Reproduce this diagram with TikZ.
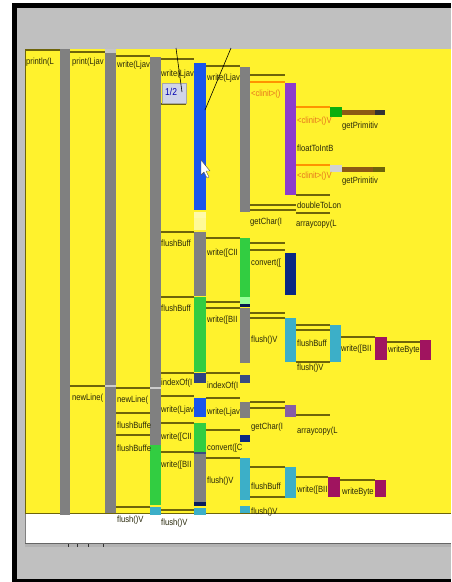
\documentclass[tikz,border=0pt]{standalone}
\usepackage{graphicx}
\usepackage{fontspec}
\setmainfont{Liberation Sans}
\definecolor{bgyel}{RGB}{255,242,45}
\definecolor{bargray}{RGB}{128,128,128}
\definecolor{barblue}{RGB}{25,85,235}
\definecolor{barpurple}{RGB}{140,60,205}
\definecolor{bargreen}{RGB}{50,205,65}
\definecolor{barnavy}{RGB}{10,40,130}
\definecolor{barteal}{RGB}{60,175,200}
\definecolor{barmag}{RGB}{160,20,95}
\definecolor{olive}{RGB}{110,100,10}
\definecolor{brownbar}{RGB}{140,90,20}
\definecolor{orangetxt}{RGB}{230,115,30}
\definecolor{txtc}{RGB}{40,40,10}
\definecolor{framegray}{RGB}{192,192,192}
\definecolor{boxlav}{RGB}{208,212,232}
\newcommand{\nt}[1]{\scalebox{0.85}[1]{#1}}
\tikzset{
  lbl/.style={anchor=west, inner sep=0pt, font=\fontsize{9}{10}\selectfont, text=txtc},
  olbl/.style={lbl, text=orangetxt},
  hln/.style={draw=olive, line width=1.3pt},
  oln/.style={draw=orange!85!yellow, line width=1.3pt},
}
\begin{document}
\begin{tikzpicture}[x=1pt,y=-1pt]
\useasboundingbox (0,0) rectangle (451,582);
% background frame
\fill[white] (0,0) rectangle (451,582);
\fill[black] (12,3) rectangle (451,582);
\fill[framegray] (17,8) rectangle (451,579);
\fill[bgyel] (25,49) rectangle (451,513);
\draw[olive, line width=0.6pt] (25.3,49) -- (25.3,513);
\draw[olive, line width=0.8pt] (25,513) -- (451,513);
\fill[white] (25,514) rectangle (451,543);
\draw[gray, line width=0.5pt] (25.3,514) -- (25.3,543);
\fill[gray!60] (25,543) rectangle (451,547);
\draw[gray!80!black, line width=0.4pt] (25,543.3) -- (451,543.3);
\foreach \tx in {68,77,88,103} \draw[gray!40!black, line width=0.5pt] (\tx,544) -- (\tx,547);

% column 1 & 2 & 3 bars
\fill[bargray] (60,49) rectangle (70,515);
\fill[bargray] (105,49) rectangle (116,513);
\fill[gray!45] (105,49) rectangle (116,53);
\fill[gray!40] (105,385) rectangle (116,387);
\fill[bargray] (150,57) rectangle (161,445);
\fill[gray!40] (150,387) rectangle (161,389);
\fill[bargreen] (150,445) rectangle (161,505);
\fill[barteal] (150,507) rectangle (161,515);

% column 4
\fill[barblue] (194,63) rectangle (206,210);
\fill[white!60!bgyel] (194,212) rectangle (206,218);
\fill[yellow!40!white] (194,218) rectangle (206,230);
\fill[bargray] (194,232) rectangle (206,296);
\fill[bargreen] (194,297) rectangle (206,372);
\fill[barnavy!70!gray] (194,373) rectangle (206,383);
\fill[barblue] (194,398) rectangle (206,417);
\fill[bargreen] (194,423) rectangle (206,452);
\fill[barnavy!60!gray] (194,452) rectangle (206,454);
\fill[bargray] (194,454) rectangle (206,502);
\fill[barnavy!70!black] (194,502) rectangle (206,506);
\fill[barteal] (194,508) rectangle (206,515);

% column 5
\fill[bargray] (240,67) rectangle (250,212);
\fill[bargreen] (240,238) rectangle (250,297);
\fill[green!40!white] (240,297) rectangle (250,304);
\fill[barnavy!60!black] (240,304) rectangle (250,307);
\fill[bargray] (240,308) rectangle (250,363);
\fill[barnavy!60!gray] (240,375) rectangle (250,383);
\fill[bargray] (240,402) rectangle (250,418);
\fill[barnavy] (240,435) rectangle (250,442);
\fill[barteal] (240,458) rectangle (250,500);
\fill[barteal] (240,506) rectangle (250,513);

% column 6
\fill[barpurple] (285,83) rectangle (296,195);
\fill[barnavy] (285,253) rectangle (296,295);
\fill[barteal] (285,318) rectangle (296,362);
\fill[barpurple!50!gray] (285,405) rectangle (296,417);
\fill[barteal] (285,467) rectangle (296,498);

% column 7 and beyond
\fill[green!65!black!80!bargreen] (330,107) rectangle (342,117);
\fill[brownbar] (342,110) rectangle (375,115);
\fill[black!80] (375,110) rectangle (385,115);
\fill[gray!35] (330,165) rectangle (342,172);
\fill[brownbar] (342,167) rectangle (373,172);
\fill[olive] (373,167) rectangle (385,172);
\fill[barteal] (330,325) rectangle (341,362);
\fill[barmag] (375,337) rectangle (387,360);
\fill[barmag] (420,340) rectangle (431,360);
\fill[barmag] (328,477) rectangle (340,497);
\fill[barmag] (375,480) rectangle (386,497);

% header lines
\draw[hln] (25,50) -- (60,50);
\draw[hln] (70,52) -- (105,52);
\draw[hln] (116,56) -- (150,56);
\draw[hln] (161,59) -- (194,59);
\draw[hln] (161,104) -- (186,104);
\draw[hln] (206,66) -- (240,66);
\draw[hln] (250,75) -- (285,75);
\draw[oln] (250,82) -- (285,82);
\draw[oln] (296,107) -- (330,107);
\draw[oln] (296,165) -- (330,165);
\draw[hln] (296,195) -- (330,195);
\draw[hln] (250,205) -- (296,205);
\draw[hln] (250,210) -- (296,210);
\draw[hln] (296,213) -- (330,213);
\draw[hln] (161,232) -- (194,232);
\draw[hln] (206,238) -- (240,238);
\draw[hln] (250,243) -- (285,243);
\draw[hln] (250,250) -- (285,250);
\draw[hln] (161,297) -- (194,297);
\draw[hln] (206,302) -- (240,302);
\draw[hln] (206,308) -- (240,308);
\draw[hln] (250,313) -- (285,313);
\draw[hln] (250,318) -- (285,318);
\draw[hln] (296,325) -- (330,325);
\draw[hln] (296,330) -- (330,330);
\draw[hln] (296,362) -- (330,362);
\draw[hln] (341,337) -- (375,337);
\draw[hln] (387,342) -- (420,342);
\draw[hln] (161,373) -- (194,373);
\draw[hln] (206,373) -- (240,373);
\draw[hln] (70,386) -- (105,386);
\draw[hln] (116,388) -- (150,388);
\draw[hln] (116,413) -- (150,413);
\draw[hln] (116,435) -- (150,435);
\draw[hln] (161,396) -- (194,396);
\draw[hln] (161,423) -- (194,423);
\draw[hln] (161,452) -- (194,452);
\draw[hln] (206,398) -- (240,398);
\draw[hln] (206,430) -- (240,430);
\draw[hln] (206,458) -- (240,458);
\draw[hln] (250,402) -- (285,402);
\draw[hln] (250,408) -- (285,408);
\draw[hln] (296,415) -- (330,415);
\draw[hln] (250,467) -- (285,467);
\draw[hln] (250,497) -- (285,497);
\draw[hln] (296,477) -- (328,477);
\draw[hln] (340,480) -- (375,480);
\draw[hln] (116,507) -- (150,507);
\draw[hln] (161,510) -- (194,510);

% 1/2 box
\node[draw=gray!70, fill=boxlav, minimum width=24pt, minimum height=20pt, inner sep=0pt, anchor=north west] (box) at (162,83) {};
\node[anchor=west, inner sep=0pt, font=\fontsize{10}{11}\selectfont, text=blue!70!black] (boxt) at (165,92) {\nt{1/2}};

% labels
\node[lbl] (l1) at (26,62) {\nt{println(L}};
\node[lbl] (l2) at (72,62) {\nt{print(Ljav}};
\node[lbl] (l3) at (117,65) {\nt{write(Ljav}};
\node[lbl] (l4) at (161,74) {\nt{write(Ljav}};
\node[lbl] (l5) at (207,78) {\nt{write(Ljav}};
\node[olbl] (l6) at (251,94) {\nt{<clinit>()}};
\node[olbl] (l7) at (297,121) {\nt{<clinit>()V}};
\node[lbl] (l8) at (342,126) {\nt{getPrimitiv}};
\node[lbl] (l9) at (297,148) {\nt{floatToIntB}};
\node[olbl] (l10) at (297,176) {\nt{<clinit>()V}};
\node[lbl] (l11) at (342,181) {\nt{getPrimitiv}};
\node[lbl] (l12) at (297,205) {\nt{doubleToLon}};
\node[lbl] (l13) at (250,222) {\nt{getChar(I}};
\node[lbl] (l14) at (296,224) {\nt{arraycopy(L}};
\node[lbl] (l15) at (161,243) {\nt{flushBuff}};
\node[lbl] (l16) at (207,253) {\nt{write([CII}};
\node[lbl] (l17) at (251,263) {\nt{convert([}};
\node[lbl] (l18) at (161,308) {\nt{flushBuff}};
\node[lbl] (l19) at (207,320) {\nt{write([BII}};
\node[lbl] (l20) at (251,340) {\nt{flush()V}};
\node[lbl] (l21) at (297,343) {\nt{flushBuff}};
\node[lbl] (l22) at (341,349) {\nt{write([BII}};
\node[lbl] (l23) at (388,350) {\nt{writeByte}};
\node[lbl] (l24) at (297,368) {\nt{flush()V}};
\node[lbl] (l25) at (161,383) {\nt{indexOf(I}};
\node[lbl] (l26) at (207,386) {\nt{indexOf(I}};
\node[lbl] (l27) at (72,398) {\nt{newLine(}};
\node[lbl] (l28) at (117,400) {\nt{newLine(}};
\node[lbl] (l29) at (161,410) {\nt{write(Ljav}};
\node[lbl] (l30) at (207,412) {\nt{write(Ljav}};
\node[lbl] (l31) at (117,425) {\nt{flushBuffe}};
\node[lbl] (l32) at (251,427) {\nt{getChar(I}};
\node[lbl] (l33) at (297,431) {\nt{arraycopy(L}};
\node[lbl] (l34) at (161,437) {\nt{write([CII}};
\node[lbl] (l35) at (207,448) {\nt{convert([C}};
\node[lbl] (l36) at (117,448) {\nt{flushBuffe}};
\node[lbl] (l37) at (161,465) {\nt{write([BII}};
\node[lbl] (l38) at (207,481) {\nt{flush()V}};
\node[lbl] (l39) at (251,486) {\nt{flushBuff}};
\node[lbl] (l40) at (297,490) {\nt{write([BII}};
\node[lbl] (l41) at (342,492) {\nt{writeByte}};
\node[lbl] (l42) at (251,512) {\nt{flush()V}};
\node[lbl] (l43) at (117,520) {\nt{flush()V}};
\node[lbl] (l44) at (161,523) {\nt{flush()V}};

% pointer lines
\coordinate (p1) at (176,48);
\coordinate (p2) at (182,92);
\coordinate (p3) at (231,48);
\coordinate (p4) at (205,110);
\draw[black, line width=0.6pt] (p1) -- (p2);
\draw[black, line width=0.6pt] (p3) -- (p4);

% mouse cursor
\draw[fill=white, draw=black!70, line width=0.4pt, line join=round]
  (201,160) -- (201,175) -- (204,172) -- (207,178) -- (209,177) -- (206,171) -- (210,171) -- cycle;
\end{tikzpicture}
\end{document}
